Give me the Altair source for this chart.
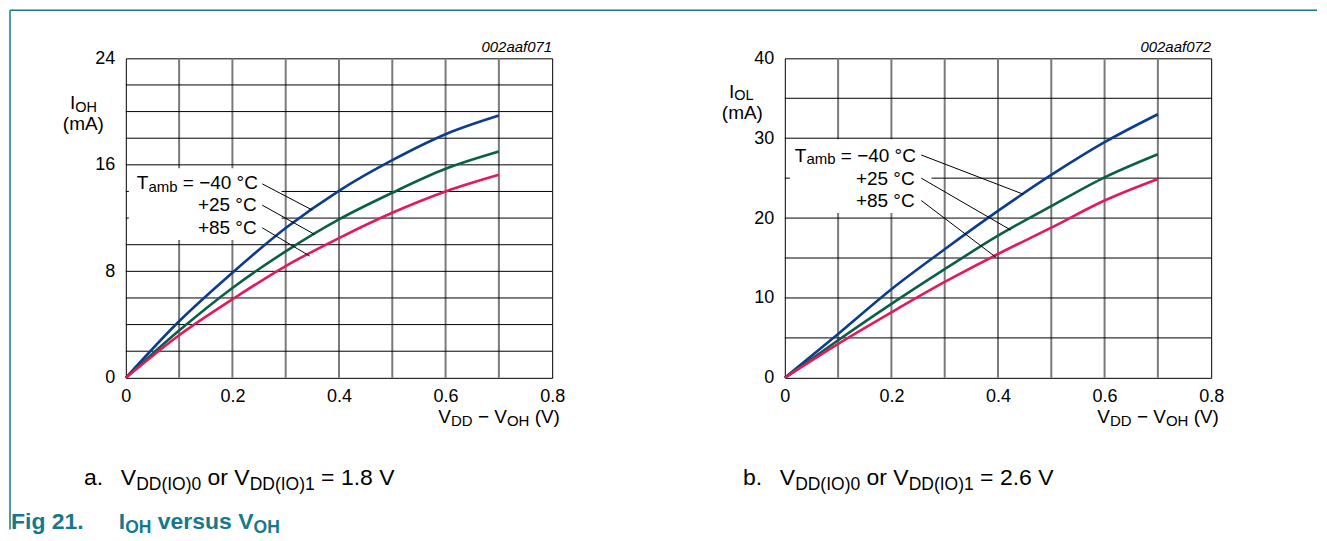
import altair as alt
import pandas as pd

FONT = "Liberation Sans"
TEAL = "#16798B"

# ---------------- data ----------------
V_DIFF = [0.0, 0.1, 0.2, 0.3, 0.4, 0.5, 0.6, 0.7]

# panel a: VDD(IO) = 1.8 V, I_OH (mA)
IOH_M40 = [0.0, 4.25, 7.9, 11.25, 14.05, 16.35, 18.3, 19.7]
IOH_P25 = [0.0, 3.55, 6.75, 9.5, 11.9, 13.9, 15.7, 17.0]
IOH_P85 = [0.0, 3.2, 5.9, 8.4, 10.5, 12.4, 14.0, 15.25]

# panel b: VDD(IO) = 2.6 V, I_OL (mA)
IOL_M40 = [0.0, 5.5, 11.1, 16.1, 20.9, 25.4, 29.5, 33.0]
IOL_P25 = [0.0, 4.7, 9.25, 13.6, 17.8, 21.5, 25.1, 28.0]
IOL_P85 = [0.0, 4.25, 8.2, 12.0, 15.5, 18.8, 22.2, 24.9]

TEMPS = ["-40", "+25", "+85"]
COLORS = ["#0B3C8E", "#0B5E48", "#E3195A"]

X_TICKS = [0.0, 0.2, 0.4, 0.6, 0.8]
X_GRID = [0.1, 0.2, 0.3, 0.4, 0.5, 0.6, 0.7]
A_Y_TICKS = [0, 8, 16, 24]
A_Y_GRID = [2, 4, 6, 8, 10, 12, 14, 16, 18, 20, 22]
B_Y_TICKS = [0, 10, 20, 30, 40]
B_Y_GRID = [5, 10, 15, 20, 25, 30, 35]

# leader lines (label end -> curve), data coordinates
A_LEAD_X = [0.256, 0.256, 0.256]
A_LEAD_Y = [14.57, 12.97, 11.27]
A_LEAD_X2 = [0.35, 0.354, 0.345]
A_LEAD_Y2 = [12.6, 10.78, 9.15]
B_LEAD_X = [0.256, 0.256, 0.256]
B_LEAD_Y = [27.9, 25.0, 22.2]
B_LEAD_X2 = [0.447, 0.424, 0.396]
B_LEAD_Y2 = [23.0, 18.5, 15.1]

FIG_IDS = ["002aaf071", "002aaf072"]
Y_SUBS = ["OH", "OL"]
SUPPLIES = ["1.8 V", "2.6 V"]
LETTERS = ["a.", "b."]

ONE = pd.DataFrame({"k": [0]})

# Arial / Liberation Sans advance widths (em)
W_REG = {" ": .278, "a": .556, "b": .556, "m": .833, "o": .556, "r": .333, ".": .278,
         "=": .584, "\u2212": .584, "+": .584, "\u00b0": .4, "C": .722, "D": .722,
         "H": .722, "I": .278, "L": .556, "O": .778, "T": .611, "V": .667, "(": .333,
         ")": .333, "s": .5, "u": .556, "e": .556, "v": .5, "A": .667}
W_BOLD = {" ": .278, "F": .611, "i": .278, "g": .611, ".": .278, "I": .278, "O": .778,
          "H": .722, "v": .556, "e": .556, "r": .389, "s": .556, "u": .611, "V": .667}


def width(s, size, bold=False):
    tab = W_BOLD if bold else W_REG
    return sum(tab.get(c, .556) for c in s) * size


def txt(s, x, y, size=18, align="left", color="black", weight="normal", style="normal"):
    return alt.Chart(ONE).mark_text(
        text=s, align=align, baseline="alphabetic", fontSize=size, font=FONT,
        color=color, fontWeight=weight, fontStyle=style,
    ).encode(x=alt.value(x), y=alt.value(y))


def chain(pieces, x0, y, color="black", bold=False):
    out = []
    x = x0
    for s, size, dy in pieces:
        core = s.lstrip(" ")
        x += width(s[:len(s) - len(core)], size, bold)
        out.append(txt(core, x, y + dy, size=size, color=color,
                       weight="bold" if bold else "normal"))
        x += width(core, size, bold)
    return out


def panel(ys, ymax, y_ticks, y_grid, lead, fig_id, ysub, label_rows, box, ytitle_y,
          letter, supply, extra=None):
    xs = alt.Scale(domain=[0, 0.8], nice=False)
    yscale = alt.Scale(domain=[0, ymax], nice=False)
    xaxis = alt.Axis(values=X_TICKS, format=".1~f", title=None, grid=False, ticks=False,
                     domain=False, labelFont=FONT, labelFontSize=18, labelColor="black",
                     labelPadding=10, labelFlush=False)
    yaxis = alt.Axis(values=y_ticks, title=None, grid=False, ticks=False, domain=False,
                     labelFont=FONT, labelFontSize=18, labelColor="black", labelPadding=11,
                     labelFlush=False)

    rows = []
    for t, vals in zip(TEMPS, ys):
        for xv, yv in zip(V_DIFF, vals):
            rows.append({"v": xv, "i": yv, "t": t})
    df = pd.DataFrame(rows)

    vgrid = alt.Chart(pd.DataFrame({"v": X_GRID})).mark_rule(
        color="#7a7a7a", strokeWidth=2).encode(x=alt.X("v:Q", scale=xs, axis=xaxis))
    hgrid = alt.Chart(pd.DataFrame({"i": y_grid})).mark_rule(
        color="black", strokeWidth=1).encode(y=alt.Y("i:Q", scale=yscale, axis=yaxis))

    wbox = alt.Chart(ONE).mark_rect(color="white").encode(
        x=alt.value(box[0]), x2=alt.value(box[1]), y=alt.value(box[2]), y2=alt.value(box[3]))

    lines = alt.Chart(df).mark_line(strokeWidth=2.6, interpolate="monotone").encode(
        x=alt.X("v:Q", scale=xs, axis=xaxis),
        y=alt.Y("i:Q", scale=yscale, axis=yaxis),
        color=alt.Color("t:N", scale=alt.Scale(domain=TEMPS, range=COLORS), legend=None),
        detail="t:N",
    )

    ldf = pd.DataFrame({"v": lead[0], "i": lead[1], "v2": lead[2], "i2": lead[3]})
    leaders = alt.Chart(ldf).mark_rule(color="black", strokeWidth=1).encode(
        x=alt.X("v:Q", scale=xs, axis=xaxis), y=alt.Y("i:Q", scale=yscale, axis=yaxis),
        x2="v2:Q", y2="i2:Q")

    layers = [vgrid, hgrid, wbox, lines, leaders]

    # figure id
    layers.append(txt(fig_id, 427, -6, size=15, align="right", style="italic"))
    # y title
    yt = ytitle_y
    layers.extend(chain([("I", 19, 0), (ysub, 14.5, 2.5)], -56, yt))
    layers.append(txt("(mA)", -42.5, yt + 21, size=19, align="center"))
    # x title
    layers.extend(chain([("V", 19, 0), ("DD", 15, 3), (" \u2212 V", 19, 0),
                         ("OH", 15, 3), (" (V)", 19, 0)], 313, 365))
    # temperature labels
    r0, r1, r2, tx, ex = label_rows
    layers.extend(chain([("T", 19, 0), ("amb", 15, 2.5), (" = \u221240 \u00b0C", 19, 0)],
                        tx, r0))
    layers.append(txt("+25 \u00b0C", ex, r1, size=19, align="right"))
    layers.append(txt("+85 \u00b0C", ex, r2, size=19, align="right"))
    # caption
    fb = 427
    layers.append(txt(letter, -42, fb, size=23))
    layers.extend(chain([("V", 23, 0), ("DD(IO)0", 17.5, 5), (" or V", 23, 0),
                         ("DD(IO)1", 17.5, 5), (" = " + supply, 23, 0)], -5, fb))
    if extra:
        layers.extend(extra)
    return alt.layer(*layers).properties(width=427, height=320)


frame = [
    alt.Chart(ONE).mark_rule(color=TEAL, strokeWidth=1.5).encode(
        x=alt.value(-116), y=alt.value(-48.25), y2=alt.value(472)),
    alt.Chart(ONE).mark_rule(color=TEAL, strokeWidth=1.5).encode(
        x=alt.value(-116), x2=alt.value(1193), y=alt.value(-48.25)),
    txt("Fig 21.", -115, 471, size=23, color=TEAL, weight="bold"),
] + chain([("I", 23, 0), ("OH", 17.5, 4), (" versus V", 23, 0), ("OH", 17.5, 4)],
          -7, 471, color=TEAL, bold=True)

left = panel([IOH_M40, IOH_P25, IOH_P85], 24, A_Y_TICKS, A_Y_GRID,
             (A_LEAD_X, A_LEAD_Y, A_LEAD_X2, A_LEAD_Y2), FIG_IDS[0], Y_SUBS[0],
             (131.3, 153, 176.4, 11, 131), (3, 156, 110, 182), 51,
             LETTERS[0], SUPPLIES[0], extra=frame)
right = panel([IOL_M40, IOL_P25, IOL_P85], 40, B_Y_TICKS, B_Y_GRID,
              (B_LEAD_X, B_LEAD_Y, B_LEAD_X2, B_LEAD_Y2), FIG_IDS[1], Y_SUBS[1],
              (103.7, 126.4, 148.7, 10, 130), (5, 147, 81, 155), 39.5,
              LETTERS[1], SUPPLIES[1])

chart = alt.hconcat(left, right, spacing=233, bounds="flush").properties(
    padding=0, background="white"
).configure_view(stroke="black", strokeWidth=1)

chart.save("out.html", embed_options={"renderer": "svg", "actions": False})
